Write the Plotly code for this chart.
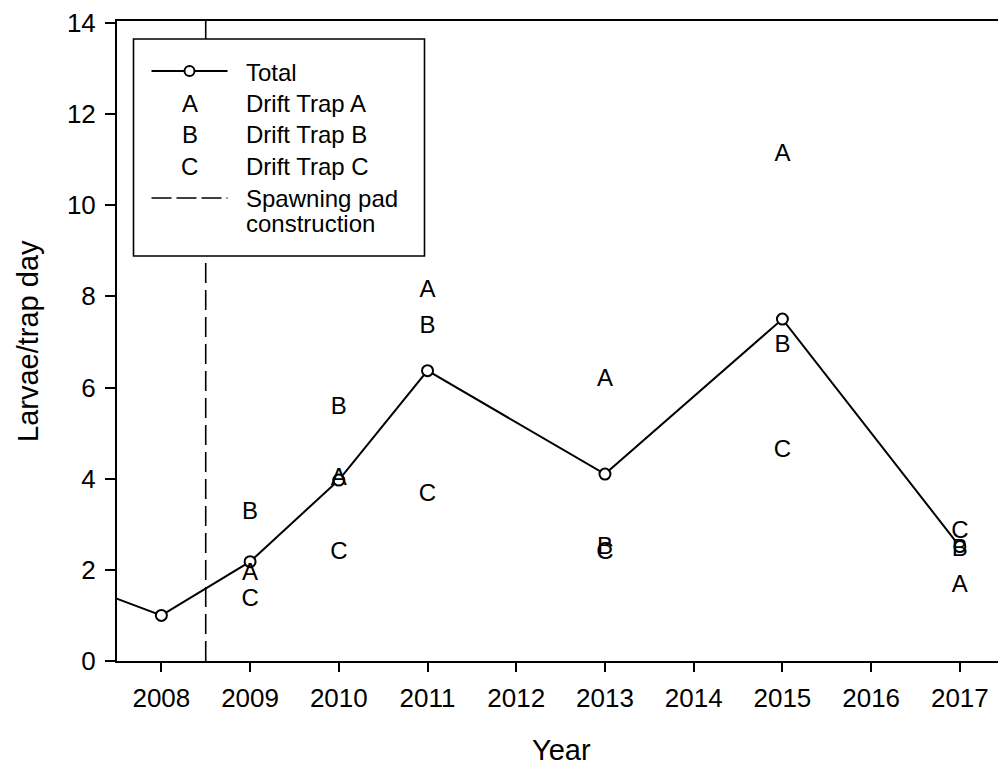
import plotly.graph_objects as go

# ---- data -------------------------------------------------------------
years = [2007, 2008, 2009, 2010, 2011, 2013, 2015, 2017]
total = [1.73, 1.00, 2.18, 3.97, 6.37, 4.10, 7.50, 2.51]

trap_years = [2009, 2010, 2011, 2013, 2015, 2017]
trap_a = [1.90, 4.00, 8.11, 6.17, 11.11, 1.65]
trap_b = [3.24, 5.55, 7.33, 2.47, 6.90, 2.44]
trap_c = [1.34, 2.36, 3.64, 2.36, 4.60, 2.84]

construction_year = 2008.5
x_ticks = list(range(2008, 2018))
y_ticks = [0, 2, 4, 6, 8, 10, 12, 14]

FONT = "Arial, Liberation Sans, sans-serif"
W, H = 998, 767
ML, MR, MT, MB = 117, 0, 21, 106
Y_MAX = 14.04

fig = go.Figure()

# spawning pad construction marker
fig.add_trace(go.Scatter(
    x=[construction_year, construction_year], y=[0, Y_MAX],
    mode="lines", line=dict(color="black", width=1.6, dash="20px,7px"),
    hoverinfo="skip"))

# total larvae per trap day
fig.add_trace(go.Scatter(
    x=years, y=total, mode="lines+markers",
    line=dict(color="black", width=2),
    marker=dict(symbol="circle", size=11, color="white",
                line=dict(color="black", width=2)),
    name="Total"))

# individual drift traps drawn as letters
for letter, vals in (("A", trap_a), ("B", trap_b), ("C", trap_c)):
    fig.add_trace(go.Scatter(
        x=trap_years, y=vals, mode="text",
        text=[letter] * len(vals), textposition="middle center",
        textfont=dict(family=FONT, size=24, color="black"),
        name=f"Drift Trap {letter}"))

# ---- legend box (pixel layout converted to paper coordinates) ----------
pw = W - ML - MR
ph = H - MT - MB


def px(x):
    return (x - ML) / pw


def py(y):
    return (H - MB - y) / ph


shapes = [
    dict(type="rect", xref="paper", yref="paper",
         x0=px(133.5), x1=px(424.5), y0=py(256), y1=py(39),
         line=dict(color="black", width=1.6), fillcolor="white", layer="above"),
    dict(type="line", xref="paper", yref="paper",
         x0=px(151.5), x1=px(227.5), y0=py(71), y1=py(71),
         line=dict(color="black", width=2), layer="above"),
    dict(type="circle", xref="paper", yref="paper",
         x0=px(184.5), x1=px(194.5), y0=py(66), y1=py(76),
         line=dict(color="black", width=2), fillcolor="white", layer="above"),
    dict(type="line", xref="paper", yref="paper",
         x0=px(151.5), x1=px(227.5), y0=py(198), y1=py(198),
         line=dict(color="black", width=1.6, dash="20px,5px"), layer="above"),
]

annotations = []
legend_rows = [
    (None, "Total", 72),
    ("A", "Drift Trap A", 103),
    ("B", "Drift Trap B", 134.5),
    ("C", "Drift Trap C", 166),
    (None, "Spawning pad", 199),
    (None, "construction", 224),
]
for sym, label, yc in legend_rows:
    if sym:
        annotations.append(dict(
            xref="paper", yref="paper", x=px(189.5), y=py(yc),
            text=sym, showarrow=False, xanchor="center", yanchor="middle",
            font=dict(family=FONT, size=24, color="black")))
    annotations.append(dict(
        xref="paper", yref="paper", x=px(244), y=py(yc),
        text=label, showarrow=False, xanchor="left", yanchor="middle",
        align="left", font=dict(family=FONT, size=24, color="black")))

# axis titles
annotations.append(dict(
    xref="paper", yref="paper", x=px(561), y=py(750),
    text="Year", showarrow=False, xanchor="center", yanchor="middle",
    font=dict(family=FONT, size=29, color="black")))
annotations.append(dict(
    xref="paper", yref="paper", x=px(28), y=py(341),
    text="Larvae/trap day", showarrow=False, textangle=-90,
    xanchor="center", yanchor="middle",
    font=dict(family=FONT, size=29, color="black")))

fig.update_layout(
    width=W, height=H,
    margin=dict(l=ML, r=MR, t=MT, b=MB),
    plot_bgcolor="white", paper_bgcolor="white",
    showlegend=False,
    font=dict(family=FONT, size=26, color="black"),
    shapes=shapes, annotations=annotations,
    xaxis=dict(range=[2007.5, 2017.43], tickvals=x_ticks,
               ticks="outside", ticklen=9, tickwidth=2, tickcolor="black",
               showline=True, linecolor="black", linewidth=2, mirror=True,
               showgrid=False, zeroline=False, ticklabelstandoff=4,
               tickfont=dict(family=FONT, size=26, color="black")),
    yaxis=dict(range=[0, Y_MAX], tickvals=y_ticks,
               ticks="outside", ticklen=10, tickwidth=2, tickcolor="black",
               showline=True, linecolor="black", linewidth=2,
               showgrid=False, zeroline=False, ticklabelstandoff=4,
               tickfont=dict(family=FONT, size=26, color="black")),
)

fig.write_html("out.html")
